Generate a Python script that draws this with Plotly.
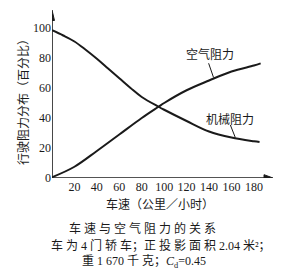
import plotly.graph_objects as go

speed_mech = [0, 10, 20, 30, 40, 50, 60, 70, 80, 95, 100, 120, 140, 160, 180, 185]
mech = [98.5, 95, 91, 85.5, 79.5, 73, 66.5, 60, 54, 47.5, 45.5, 38, 31, 27, 24.5, 24]
speed_air = [0, 20, 40, 60, 80, 95, 100, 120, 140, 160, 180, 186]
air = [0.5, 7.5, 18, 29, 40, 47.5, 50, 58.5, 65, 71, 75, 76.4]
x_ticks = [20, 40, 60, 80, 100, 120, 140, 160, 180]
y_ticks = [0, 20, 40, 60, 80, 100]

FONT = "Liberation Serif, Noto Sans CJK SC"
CJK = "Noto Sans CJK SC"
INK = "#1a1a1a"

fig = go.Figure()
fig.add_trace(go.Scatter(x=speed_mech, y=mech, mode="lines",
                         line=dict(color=INK, width=2, shape="spline"), hoverinfo="skip"))
fig.add_trace(go.Scatter(x=speed_air, y=air, mode="lines",
                         line=dict(color=INK, width=2, shape="spline"), hoverinfo="skip"))

fig.update_layout(
    width=290, height=276,
    margin=dict(l=52, r=17, t=10, b=98),
    paper_bgcolor="white", plot_bgcolor="white",
    showlegend=False,
    font=dict(family=FONT, color=INK, size=12),
    xaxis=dict(range=[0, 197], tickvals=x_ticks, ticktext=[str(v) for v in x_ticks],
               showgrid=False, zeroline=False, showline=False,
               ticks="", tickfont=dict(size=12, family=FONT), fixedrange=True),
    yaxis=dict(range=[0, 112], tickvals=y_ticks, ticktext=[str(v) for v in y_ticks],
               showgrid=False, zeroline=False, showline=False,
               ticks="", tickfont=dict(size=12, family=FONT), fixedrange=True),
)

# axes lines and arrowheads
fig.add_shape(type="line", xref="x", yref="y", x0=0, y0=0, x1=193, y1=0,
              line=dict(color=INK, width=1.6))
fig.add_shape(type="line", xref="x", yref="y", x0=0, y0=0, x1=0, y1=107,
              line=dict(color=INK, width=1.6))
fig.add_shape(type="path", xref="x", yref="y", path="M 189,-2.2 L 197,0 L 189,2.2 Z",
              fillcolor=INK, line=dict(color=INK, width=1))
fig.add_shape(type="path", xref="x", yref="y", path="M -2.2,105 L 0,112 L 2.2,105 Z",
              fillcolor=INK, line=dict(color=INK, width=1))

# curve labels with leader lines
fig.add_shape(type="line", xref="x", yref="y", x0=139.6, y0=76.5, x1=144, y1=67,
              line=dict(color=INK, width=1))
fig.add_annotation(x=141, y=83, xref="x", yref="y", text="空气阻力", showarrow=False,
                   font=dict(size=12, family=CJK))
fig.add_shape(type="line", xref="x", yref="y", x0=159, y0=35.3, x1=163.4, y1=27,
              line=dict(color=INK, width=1))
fig.add_annotation(x=159, y=40, xref="x", yref="y", text="机械阻力", showarrow=False,
                   font=dict(size=12, family=CJK))

# axis titles
fig.add_annotation(xref="paper", yref="paper", x=(22 - 52) / 221, y=0.47,
                   xanchor="center", yanchor="middle",
                   text="行驶阻力分布（百分比）", textangle=-90, showarrow=False,
                   font=dict(size=12, family=CJK))
fig.add_annotation(xref="paper", yref="paper", x=(160 - 52) / 221, y=(178 - 203) / 168,
                   xanchor="center", yanchor="middle",
                   text="车速（公里／小时）", showarrow=False,
                   font=dict(size=12, family=CJK))

# caption
caption = ["车 速 与 空 气 阻 力 的 关 系",
           "车 为 4 门 轿 车；正 投 影 面 积 2.04 米²；",
           "重 1 670 千 克；<i>C</i><sub>d</sub>=0.45"]
cap_y = [228, 245, 262]
cap_x = [142, 161, 144]
for t, py, px in zip(caption, cap_y, cap_x):
    fig.add_annotation(xref="paper", yref="paper",
                       x=(px - 52) / 221, y=(178 - py) / 168,
                       xanchor="center", yanchor="middle", text=t, showarrow=False,
                       font=dict(size=12, family=FONT))

fig.write_html("out.html")
